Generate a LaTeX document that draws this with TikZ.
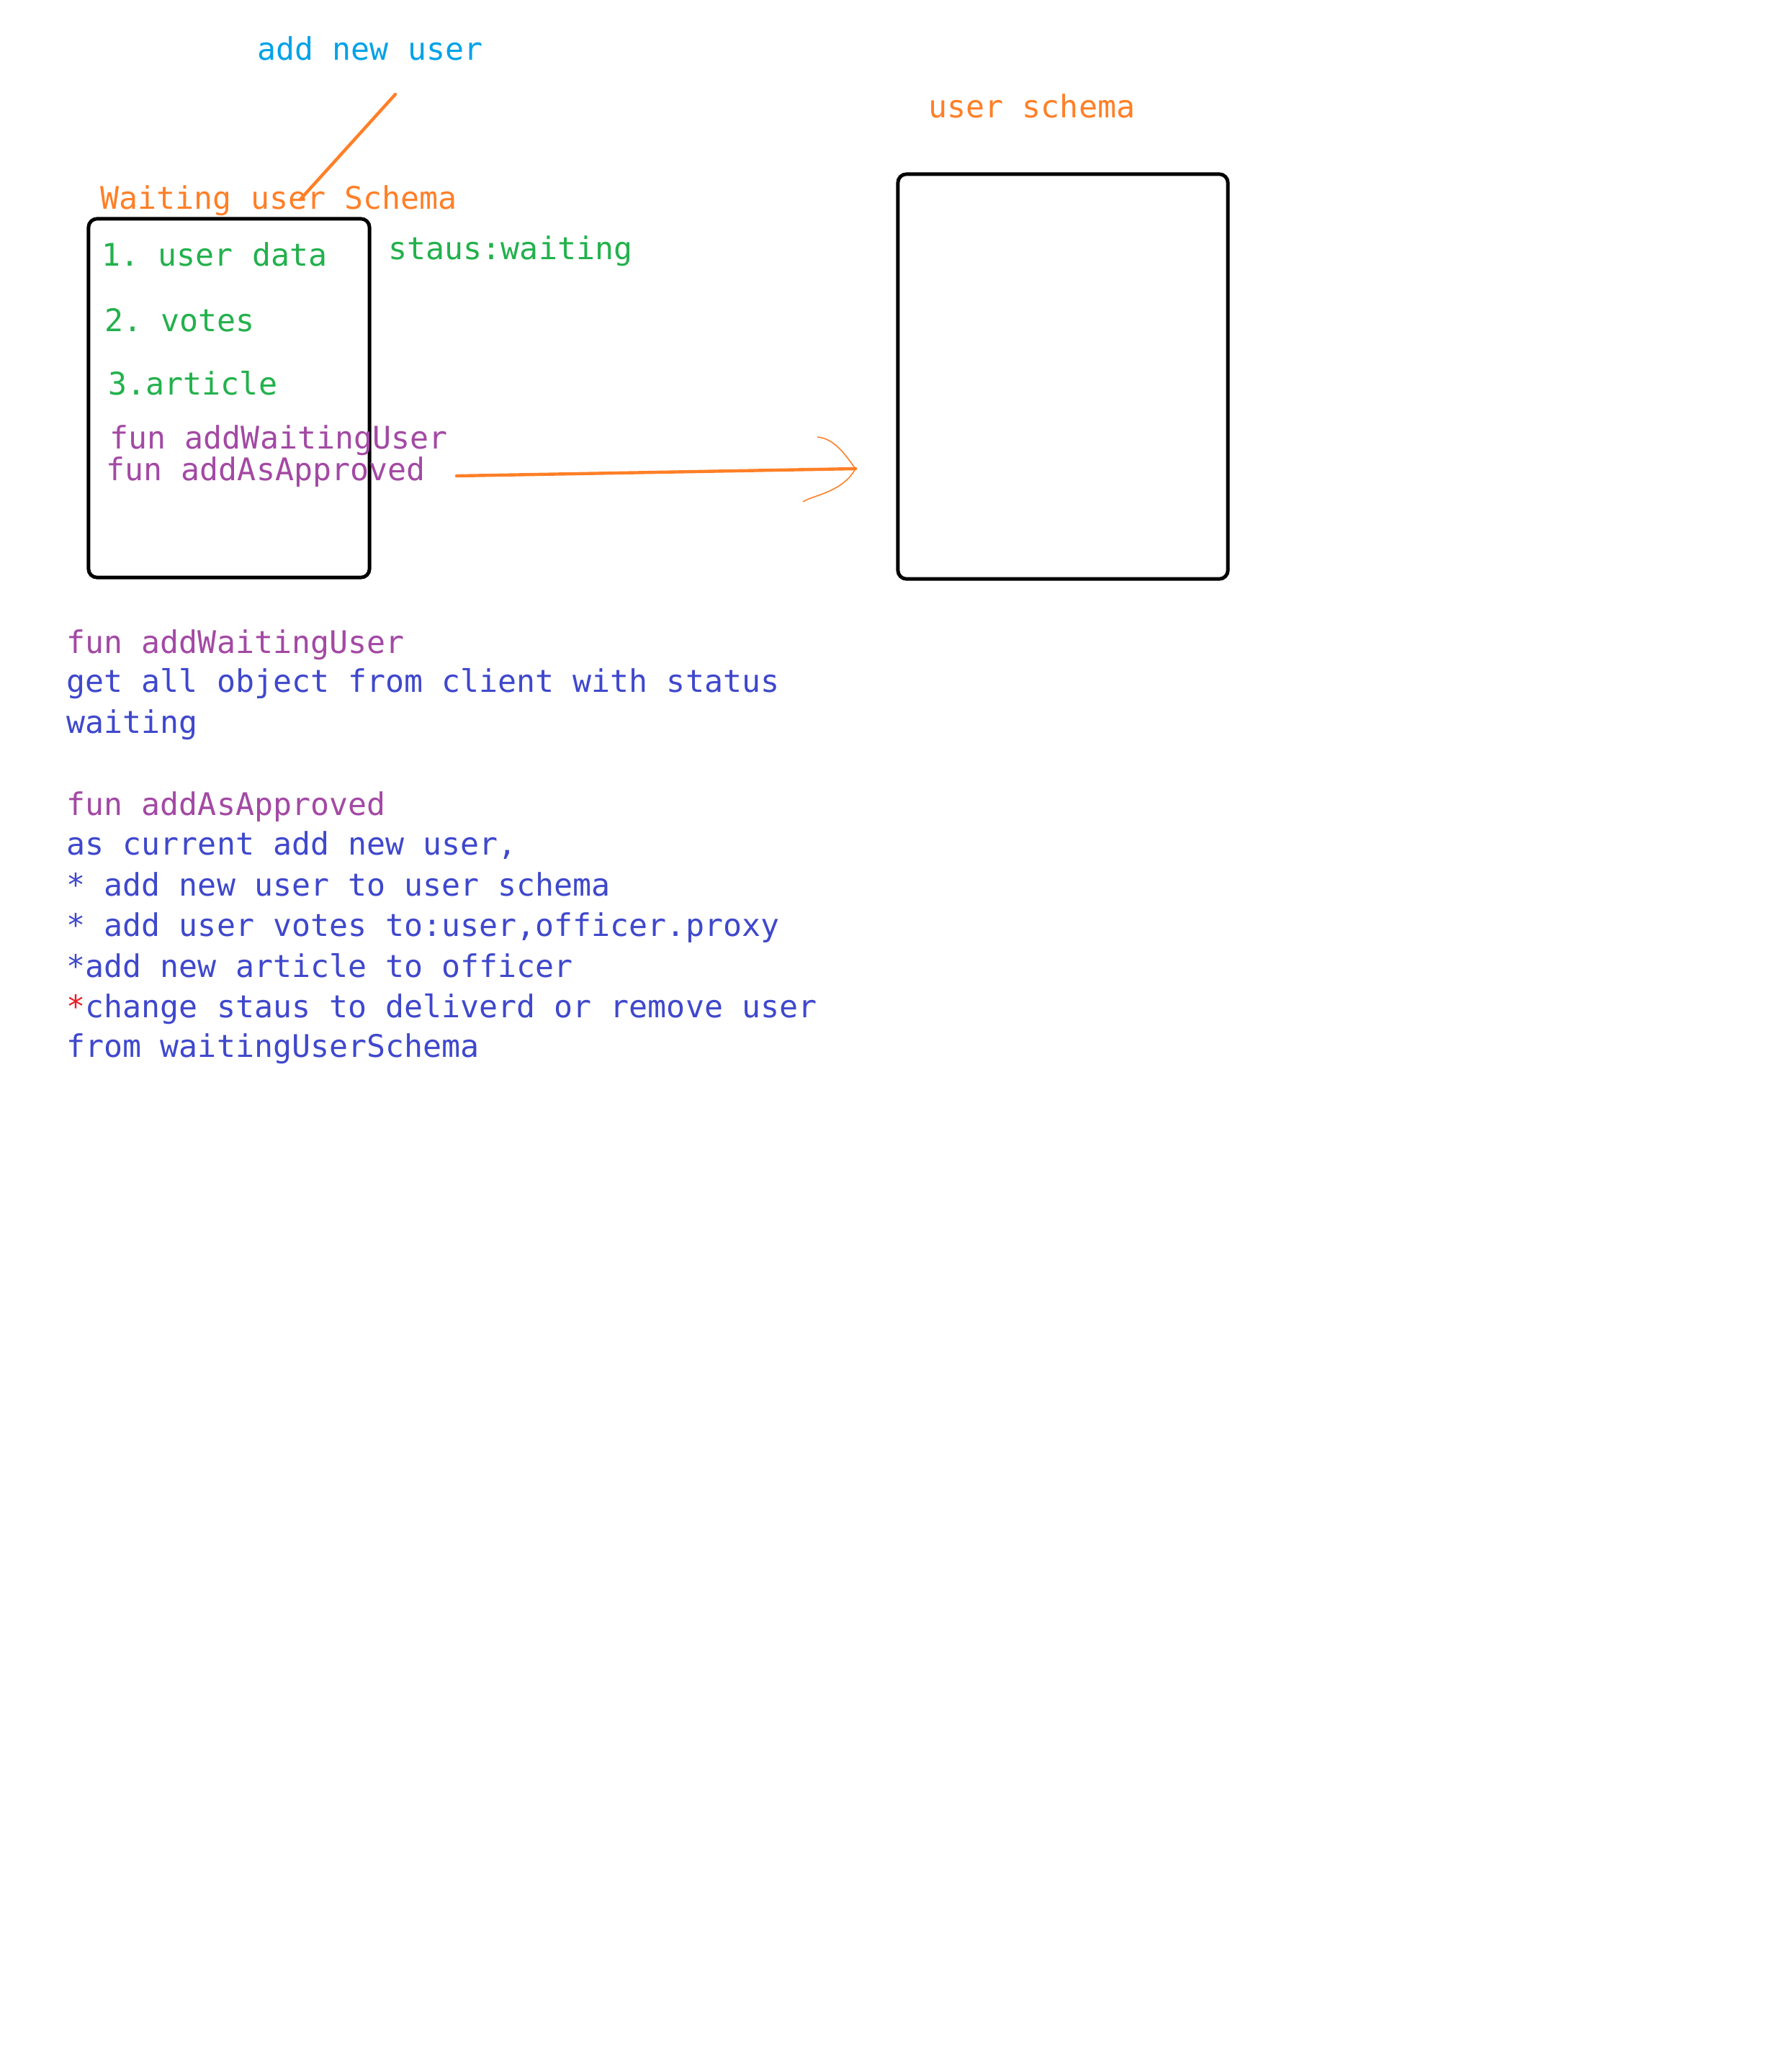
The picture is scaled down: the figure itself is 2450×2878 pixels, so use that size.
\documentclass[tikz,border=0pt]{standalone}
\usepackage{fontspec}
\usepackage{tikz}
\usepackage{xcolor}
\newfontfamily\codefont{DejaVu Sans Mono}
\frenchspacing
\definecolor{paintorange}{RGB}{255,127,39}
\definecolor{paintcyan}{RGB}{0,162,232}
\definecolor{paintgreen}{RGB}{34,177,76}
\definecolor{paintpurple}{RGB}{163,73,164}
\definecolor{paintblue}{RGB}{63,72,204}
\definecolor{paintred}{RGB}{237,28,36}
\tikzset{every node/.style={inner sep=0pt,anchor=base west,
   font=\codefont\fontsize{12.3}{15.9}\selectfont},
 schema/.style={draw=black,line width=1.4pt,rounded corners=3.4pt,anchor=center},
 heading/.style={text=paintorange},
 field/.style={text=paintgreen},
 fun/.style={text=paintpurple},
 note/.style={text=paintblue},
 stroke/.style={draw=paintorange,line width=1.25pt,line cap=round},
 scribble/.style={draw=paintorange,line width=0.45pt},
 }

\begin{document}
\begin{tikzpicture}[x=0.01cm,y=-0.01cm]
        \fill[white] (0,0) rectangle (2450,2878);
        % the two schemas
        \node[schema,minimum width=3.9cm,minimum height=4.98cm] (waitbox) at (318,553) {};
        \node[schema,minimum width=4.58cm,minimum height=5.62cm] (userbox) at (1476,523) {};
        \node[text=paintcyan] (newuser) at (357,83) {add new user};
        \node[heading] (waittitle) at (139,290) {Waiting user Schema};
        \node[heading] (usertitle) at (1289,163) {user schema};
        \node[field] (status) at (539,360) {staus:waiting};
        \node[field] (userdata) at (141,369) {1. user data};
        \node[field] (votes) at (145,460) {2. votes};
        \node[field] (article) at (150,548) {3.article};
        \node[fun] (funwait) at (152,623) {fun addWaitingUser};
        \node[fun] (funappr) at (147,667) {fun addAsApproved};
        % notes below
        \node[fun] (notewait) at (92,907) {fun addWaitingUser};
        \node[note] (wait1) at (92,961) {get all object from client with status};
        \node[note] (wait2) at (92,1018) {waiting};
        \node[fun] (noteappr) at (92,1132) {fun addAsApproved};
        \node[note] (appr1) at (92,1187) {as current add new user,};
        \node[note] (appr2) at (92,1244) {* add new user to user schema};
        \node[note] (appr3) at (92,1300) {* add user votes to:user,officer.proxy};
        \node[note] (appr4) at (92,1357) {*add new article to officer};
        \node[note] (appr5) at (92,1413) {\textcolor{paintred}{*}change staus to deliverd or remove user};
        \node[note] (appr6) at (92,1468) {from waitingUserSchema};
        % strokes
        \coordinate (pointfrom) at (549,131);
        \coordinate (pointto) at (417,277);
        \draw[stroke] (pointfrom) -- (pointto);
        \coordinate (tail) at (634,661);
        \coordinate (tip) at (1188,651);
        \coordinate (headup) at (1135,607);
        \coordinate (headdown) at (1115,697);
        \draw[stroke] (tail) -- (tip);
        \draw[scribble] (headup) .. controls (1160,609) and (1176,635) .. (tip);
        \draw[scribble] (headdown) .. controls (1128,688) and (1170,684) .. (tip);
\end{tikzpicture}
\end{document}
